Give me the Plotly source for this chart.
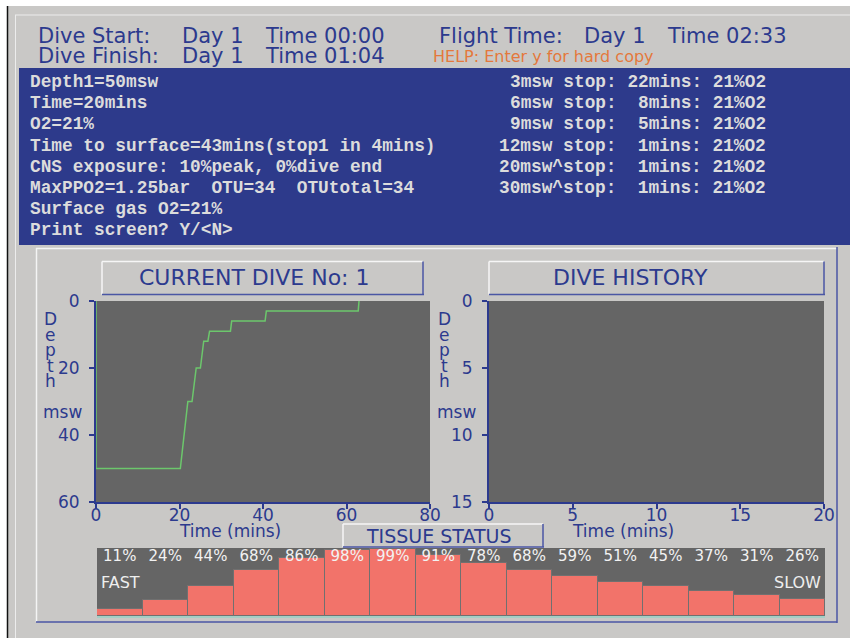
import plotly.graph_objects as go

# ---------------- data ----------------
header_labels = ["Dive Start:", "Dive Finish:"]
header_days = ["Day 1", "Day 1"]
header_times = ["Time 00:00", "Time 01:04"]
flight_parts = ["Flight Time:", "Day 1", "Time 02:33"]
help_text = "HELP: Enter y for hard copy"

info_lines = [
    "Depth1=50msw",
    "Time=20mins",
    "O2=21%",
    "Time to surface=43mins(stop1 in 4mins)",
    "CNS exposure: 10%peak, 0%dive end",
    "MaxPPO2=1.25bar  OTU=34  OTUtotal=34",
    "Surface gas O2=21%",
    "Print screen? Y/<N>",
]

stop_depth = [3, 6, 9, 12, 20, 30]
stop_flag = ["", "", "", "", "^", "^"]
stop_mins = [22, 8, 5, 1, 1, 1]
stop_o2 = [21, 21, 21, 21, 21, 21]

dive_time = [0, 0, 20.2, 22.0, 23.0, 24.0, 25.0, 25.8, 26.8, 27.2, 32.2, 32.5, 40.5, 40.8, 62.8, 63.0]
dive_depth = [0, 50, 50, 30, 30, 20, 20, 12, 12, 9, 9, 6, 6, 3, 3, 0]

current_time_ticks = [0, 20, 40, 60, 80]
current_depth_ticks = [0, 20, 40, 60]
history_time_ticks = [0, 5, 10, 15, 20]
history_depth_ticks = [0, 5, 10, 15]

tissue_pct = [11, 24, 44, 68, 86, 98, 99, 91, 78, 68, 59, 51, 45, 37, 31, 26]

current_title = "CURRENT DIVE No: 1"
history_title = "DIVE HISTORY"
tissue_title = "TISSUE STATUS"
axis_word = "Depth"
unit_word = "msw"
time_title = "Time (mins)"

# ---------------- styling ----------------
W, H = 850, 638
BG = "#c9c8c6"
PANEL = "#2d3a8b"
NAVY = "#2c3a8e"
BEVEL_BLUE = "#4a56a4"
PLOT_BG = "#656565"
SANS = "DejaVu Sans"
MONO = "Liberation Mono"


def X(px):
    return px / W


def Y(py):
    return 1 - py / H


def esc(s):
    return s.replace("&", "&amp;").replace("<", "&lt;").replace(">", "&gt;").replace(" ", "\u00a0")


fig = go.Figure()

fig.add_trace(go.Scatter(x=dive_time, y=dive_depth, mode="lines",
                         line=dict(color="#6cc76c", width=1.5), xaxis="x", yaxis="y",
                         hoverinfo="skip"))
fig.add_trace(go.Scatter(x=[], y=[], mode="lines", xaxis="x2", yaxis="y2"))
fig.add_trace(go.Bar(x=list(range(len(tissue_pct))), y=tissue_pct,
                     marker=dict(color="#f2736a", line=dict(color="#707070", width=1)),
                     xaxis="x3", yaxis="y3", hoverinfo="skip"))
fig.add_trace(go.Scatter(x=list(range(len(tissue_pct))), y=[88] * len(tissue_pct),
                         mode="text", text=[f"{v}%" for v in tissue_pct],
                         textfont=dict(family=SANS, size=15, color="#f2f2f2"),
                         xaxis="x3", yaxis="y3", hoverinfo="skip", cliponaxis=False))

axis_common = dict(showgrid=False, zeroline=False, showline=True, linecolor=NAVY, linewidth=2,
                   ticks="outside", ticklen=5, tickwidth=1.5, tickcolor=NAVY, automargin=False,
                   tickfont=dict(family=SANS, size=17, color=NAVY), fixedrange=True)

fig.update_layout(
    template="none",
    width=W, height=H, margin=dict(l=0, r=0, t=0, b=0, pad=0), autosize=False,
    paper_bgcolor=BG, plot_bgcolor=PLOT_BG, showlegend=False, bargap=0,
    xaxis=dict(domain=[X(96), X(430)], range=[0, 80], tickvals=current_time_ticks,
               anchor="y", ticklabelstandoff=-8, **axis_common),
    yaxis=dict(domain=[Y(502), Y(301)], range=[60, 0], tickvals=current_depth_ticks,
               anchor="x", ticklabelstandoff=6, **axis_common),
    xaxis2=dict(domain=[X(489), X(824)], range=[0, 20], tickvals=history_time_ticks,
                anchor="y2", ticklabelstandoff=-8, **axis_common),
    yaxis2=dict(domain=[Y(502), Y(301)], range=[15, 0], tickvals=history_depth_ticks,
                anchor="x2", ticklabelstandoff=6, **axis_common),
    xaxis3=dict(domain=[X(97), X(825)], range=[-0.5, len(tissue_pct) - 0.5], anchor="y3",
                showticklabels=False, ticks="", showgrid=False, zeroline=False, automargin=False,
                showline=True, linecolor="#a3cfc6", linewidth=2, fixedrange=True),
    yaxis3=dict(domain=[Y(616), Y(548)], range=[0, 101], anchor="x3", visible=False,
                automargin=False, fixedrange=True),
)

shapes = []


def line(x0, y0, x1, y1, color, width=1.5):
    shapes.append(dict(type="line", xref="paper", yref="paper", x0=X(x0), y0=Y(y0),
                       x1=X(x1), y1=Y(y1), line=dict(color=color, width=width)))


def rect(x0, y0, x1, y1, fill):
    shapes.append(dict(type="rect", xref="paper", yref="paper", x0=X(x0), y0=Y(y0),
                       x1=X(x1), y1=Y(y1), fillcolor=fill, line=dict(width=0), layer="below"))


rect(0, 0, 850, 6, "white")
rect(0, 0, 7, 638, "white")
line(7.5, 6, 7.5, 638, "#111111", 1.5)
line(15.5, 15, 15.5, 638, "#ececec", 1)
line(15, 15, 850, 15, "#ececec", 1)
rect(19, 68, 850, 245, PANEL)
line(36, 248.5, 837, 248.5, "#f4f4f4")
line(36.5, 248, 36.5, 622, "#f4f4f4")
line(837, 247, 837, 623, BEVEL_BLUE)
line(36, 622, 837, 622, BEVEL_BLUE)


def bevel_box(x0, y0, x1, y1):
    line(x0, y0, x1, y0, "#f6f6f6")
    line(x0, y0, x0, y1, "#f6f6f6")
    line(x0, y1, x1 + 1, y1, BEVEL_BLUE)
    line(x1, y0, x1, y1, BEVEL_BLUE)


bevel_box(102, 261.5, 423, 294.5)
bevel_box(489, 261.5, 824, 294.5)
bevel_box(343, 524, 543, 547)

annotations = []


def text(s, x, y, size, color, family=SANS, xanchor="left", weight="normal"):
    annotations.append(dict(text=s, xref="paper", yref="paper", x=X(x), y=Y(y),
                            xanchor=xanchor, yanchor="middle", showarrow=False,
                            font=dict(family=family, size=size, color=color, weight=weight)))


for i, (a, b, c) in enumerate(zip(header_labels, header_days, header_times)):
    yy = 36 + i * 19.5
    text(a, 36, yy, 21, NAVY)
    text(b, 180, yy, 21, NAVY)
    text(c, 263, yy, 21, NAVY)
text(flight_parts[0], 437, 36, 21, NAVY)
text(flight_parts[1], 582, 36, 21, NAVY)
text(flight_parts[2], 665, 36, 21, NAVY)
text(help_text, 431, 56, 16, "#e4783c")

for i, s in enumerate(info_lines):
    text(esc(s), 28, 82 + i * 21.2, 17.8, "#dcdcdc", family=MONO, weight="bold")
for i, (d, f, m, o) in enumerate(zip(stop_depth, stop_flag, stop_mins, stop_o2)):
    s = f"{d}msw{f if f else ' '}stop:{m:>3}mins: {o}%O2"
    text(esc(s), 768, 82 + i * 21.2, 17.8, "#dcdcdc", family=MONO, xanchor="right", weight="bold")

text(current_title, 254, 278, 22, NAVY, xanchor="center")
text(history_title, 630, 278, 22, NAVY, xanchor="center")
text(tissue_title, 439, 536, 19, NAVY, xanchor="center")

for cx in (50, 444):
    for i, ch in enumerate(axis_word):
        text(ch, cx, 319 + i * 15.5, 17, NAVY, xanchor="center")
text(unit_word, 63, 412, 17, NAVY, xanchor="center")
text(unit_word, 457, 412, 17, NAVY, xanchor="center")
text(time_title, 230, 531, 17, NAVY, xanchor="center")
text(time_title, 623, 531, 17, NAVY, xanchor="center")

text("FAST", 99, 582, 16, "#eeeeee")
text("SLOW", 823, 582, 16, "#eeeeee", xanchor="right")

fig.update_layout(shapes=shapes, annotations=annotations)
fig.write_html("out.html", config={"displayModeBar": False},
               post_script="document.body.style.margin='0';document.body.style.overflow='hidden';")
